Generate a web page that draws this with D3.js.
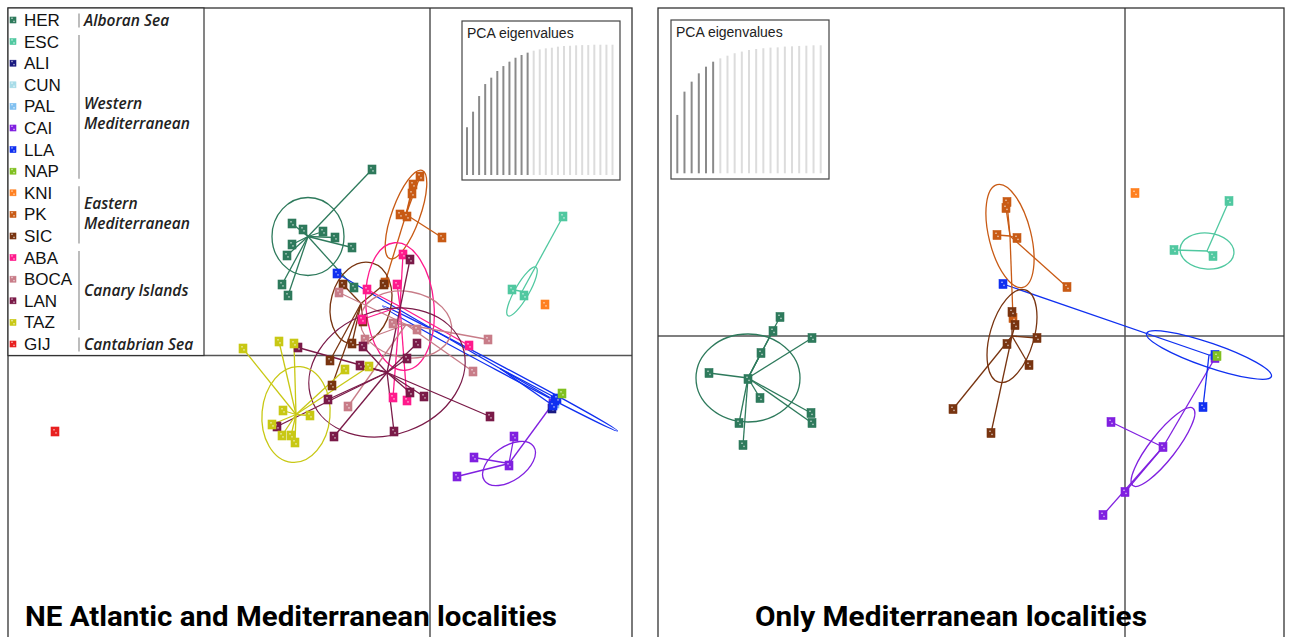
<!DOCTYPE html>
<html><head><meta charset="utf-8">
<script src="https://cdn.jsdelivr.net/npm/d3@7"></script>
<style>body{margin:0;background:#fff}svg{display:block}</style>
</head><body>
<svg id="c" width="1292" height="637"></svg>
<script>
// ---------------- DATA ----------------
const groups = ["HER","ESC","ALI","CUN","PAL","CAI","LLA","NAP","KNI","PK","SIC","ABA","BOCA","LAN","TAZ","GIJ"];
const groupColors = ["#2e7a5c","#50c8a0","#1a1a80","#a8dce8","#80c0f0","#8020e0","#1030f0","#80c020",
                     "#ff8020","#c85a14","#783410","#ff1a8c","#c87c88","#7a1a48","#c8c814","#e82020"];
const regionNames = [["Alboran Sea"],["Western","Mediterranean"],["Eastern","Mediterranean"],["Canary Islands"],["Cantabrian Sea"]];
const regionFirst = [0,1,8,11,15];
const regionLast  = [0,7,10,14,15];

// PCA scores, left panel (all localities): [group, PC1, PC2]
const leftScores = [
 ["HER",-0.58,1.86],["HER",-1.38,1.32],["HER",-1.27,1.26],["HER",-1.07,1.24],["HER",-0.95,1.18],["HER",-0.78,1.08],
 ["HER",-1.38,1.11],["HER",-1.43,1.00],["HER",-1.48,0.71],["HER",-1.42,0.60],["HER",-0.76,0.68],
 ["ESC",1.33,1.39],["ESC",0.82,0.66],["ESC",0.94,0.60],
 ["CUN",1.24,-0.47],["PAL",1.25,-0.48],["ALI",1.22,-0.53],
 ["CAI",0.84,-0.81],["CAI",0.44,-1.02],["CAI",0.27,-1.21],["CAI",0.79,-1.10],["CAI",1.23,-0.48],
 ["LLA",-0.93,0.82],["LLA",1.25,-0.45],["LLA",1.23,-0.50],["LLA",1.27,-0.43],
 ["NAP",1.32,-0.38],
 ["KNI",1.15,0.51],
 ["PK",-0.10,1.79],["PK",-0.17,1.71],["PK",-0.18,1.62],["PK",-0.30,1.41],["PK",-0.23,1.39],["PK",0.12,1.18],["PK",-0.45,0.73],
 ["SIC",-0.87,0.71],["SIC",-0.46,0.71],["SIC",-0.67,0.34],["SIC",-0.78,0.12],["SIC",-1.00,-0.05],["SIC",-0.98,-0.30],
 ["ABA",-0.27,1.01],["ABA",-0.33,0.71],["ABA",-0.63,0.66],["ABA",-0.68,0.36],["ABA",0.39,0.10],["ABA",-0.37,-0.42],["ABA",-0.23,-0.45],
 ["BOCA",-0.91,0.63],["BOCA",-0.37,0.32],["BOCA",-0.13,0.26],["BOCA",-0.65,0.16],["BOCA",0.58,0.16],["BOCA",0.43,-0.16],["BOCA",-0.82,-0.51],
 ["LAN",-0.20,0.96],["LAN",-0.23,-0.03],["LAN",-0.13,0.12],["LAN",-0.67,0.09],["LAN",-0.70,-0.10],["LAN",-1.32,0.08],
 ["LAN",-0.20,-0.37],["LAN",-0.06,-0.41],["LAN",0.60,-0.61],["LAN",-0.36,-0.76],["LAN",-0.96,-0.81],["LAN",-1.53,-0.71],["LAN",-1.02,-0.44],
 ["TAZ",-1.87,0.07],["TAZ",-1.51,0.14],["TAZ",-1.36,0.12],["TAZ",-0.85,-0.14],["TAZ",-0.61,-0.11],["TAZ",-1.47,-0.55],
 ["TAZ",-1.20,-0.60],["TAZ",-1.58,-0.69],["TAZ",-1.48,-0.80],["TAZ",-1.39,-0.80],["TAZ",-1.35,-0.87],
 ["GIJ",-3.75,-0.76]
];
// group centroids and inertia ellipses, left panel: [group, cx, cy, semi-axis 1, semi-axis 2, angle(deg)]
const leftCentroids = [
 ["HER",-1.22,1.19,0.36,0.39,0],
 ["ESC",0.92,0.64,0.28,0.07,-60],
 ["CAI",0.79,-1.08,0.30,0.17,-35],
 ["LLA",0.70,-0.13,1.33,0.03,28],
 ["PK",-0.24,1.41,0.14,0.47,20],
 ["SIC",-0.69,0.52,0.30,0.42,15],
 ["ABA",-0.30,0.49,0.34,0.64,-5],
 ["BOCA",-0.24,0.31,0.46,0.33,10],
 ["LAN",-0.43,-0.17,0.80,0.62,-20],
 ["TAZ",-1.34,-0.59,0.34,0.48,5]
];
// PCA scores, right panel (Mediterranean only)
const rightScores = [
 ["HER",-3.45,0.19],["HER",-3.52,0.05],["HER",-3.13,-0.02],["HER",-3.64,-0.17],["HER",-4.16,-0.37],["HER",-3.77,-0.43],
 ["HER",-3.65,-0.62],["HER",-3.14,-0.77],["HER",-3.13,-0.87],["HER",-3.86,-0.87],["HER",-3.82,-1.09],
 ["ESC",1.04,1.35],["ESC",0.49,0.86],["ESC",0.88,0.80],
 ["CAI",-0.14,-0.86],["CAI",0.38,-1.11],["CAI",0.00,-1.56],["CAI",-0.22,-1.79],["CAI",0.90,-0.22],
 ["LLA",-1.22,0.52],["LLA",0.90,-0.19],["LLA",0.78,-0.71],
 ["NAP",0.92,-0.20],
 ["KNI",0.10,1.43],
 ["PK",-1.18,1.34],["PK",-1.19,1.28],["PK",-1.28,1.01],["PK",-1.08,0.98],["PK",-0.58,0.49],["PK",-1.12,0.18],
 ["SIC",-1.13,0.24],["SIC",-1.10,0.11],["SIC",-1.18,-0.08],["SIC",-0.88,-0.02],["SIC",-0.96,-0.29],["SIC",-1.72,-0.73],["SIC",-1.34,-0.97]
];
const rightCentroids = [
 ["HER",-3.77,-0.42,0.52,0.44,0],
 ["ESC",0.82,0.85,0.27,0.18,5],
 ["CAI",0.38,-1.11,0.49,0.13,-52],
 ["LLA",0.84,-0.19,0.66,0.12,19],
 ["PK",-1.15,1.00,0.21,0.53,-14],
 ["SIC",-1.13,0.00,0.22,0.48,16]
];
// eigenvalue insets (cumulative %, axes kept shown dark)
const leftEigen = [36.6,48.6,60.6,69.8,74.7,79.8,83.6,87.0,90.0,92.1,93.9,95.4,96.4,97.2,97.7,98.5,99.0,99.2,99.5,99.7,99.7,100,100,100,100];
const leftEigenKept = 11;
const rightEigen = [45.6,63.8,71.6,78.1,83.3,87.2,89.8,91.9,93.8,95.1,96.4,97.1,97.7,98.2,98.4,99.0,99.2,99.5,99.7,100,100];
const rightEigenKept = 6;
const insetTitle = "PCA eigenvalues";
const titles = ["NE Atlantic and Mediterranean localities","Only Mediterranean localities"];

// ---------------- DRAWING ----------------
const svg = d3.select("#c");
const colorOf = d3.scaleOrdinal().domain(groups).range(groupColors);

function marker(g, cx, cy, col, w, h) {
  g.append("rect").attr("x", cx - w/2).attr("y", cy - h/2).attr("width", w).attr("height", h)
    .attr("fill", col).attr("stroke", col).attr("stroke-width", 0.6);
  g.append("rect").attr("x", cx - 1.7).attr("y", cy - 2.4).attr("width", 1.4).attr("height", 1.4).attr("fill", "#fff").attr("opacity", 0.7);
  g.append("rect").attr("x", cx + 0.3).attr("y", cy + 0.7).attr("width", 1.4).attr("height", 1.4).attr("fill", "#fff").attr("opacity", 0.7);
}

function drawPanel(cfg) {
  const g = svg.append("g");
  const x = d3.scaleLinear().domain(cfg.xDom).range([cfg.x0, cfg.x1]);
  const y = d3.scaleLinear().domain(cfg.yDom).range([cfg.y0, cfg.y1]);
  const clipId = "clip" + cfg.id;
  svg.append("clipPath").attr("id", clipId).append("rect")
    .attr("x", cfg.x0).attr("y", cfg.y0).attr("width", cfg.x1 - cfg.x0).attr("height", cfg.y1 - cfg.y0);
  const plot = g.append("g").attr("clip-path", `url(#${clipId})`);

  // axes through origin
  plot.append("line").attr("x1", x(0)).attr("x2", x(0)).attr("y1", cfg.y0).attr("y2", cfg.y1)
    .attr("stroke", "#555").attr("stroke-width", 1.5);
  plot.append("line").attr("x1", cfg.x0).attr("x2", cfg.x1).attr("y1", y(0)).attr("y2", y(0))
    .attr("stroke", "#555").attr("stroke-width", 1.5);

  // eigenvalue inset
  const ib = cfg.inset;
  const ig = plot.append("g");
  ig.append("rect").attr("x", ib.x0).attr("y", ib.y0).attr("width", ib.x1 - ib.x0).attr("height", ib.y1 - ib.y0)
    .attr("fill", "#fff").attr("stroke", "#444").attr("stroke-width", 1.2);
  const bx = d3.scalePoint().domain(d3.range(cfg.eigen.length)).range([ib.bx0, ib.bx1]);
  const by = d3.scaleLinear().domain([0, 100]).range([ib.by0, ib.by1]);
  ig.selectAll("line.eig").data(cfg.eigen).join("line").attr("class", "eig")
    .attr("x1", (d, i) => bx(i)).attr("x2", (d, i) => bx(i))
    .attr("y1", by(0)).attr("y2", d => by(d))
    .attr("stroke", (d, i) => i < cfg.kept ? "#8a8a8a" : "#dcdcdc").attr("stroke-width", 2);
  ig.append("text").attr("x", ib.x0 + 5).attr("y", ib.y0 + 17).text(insetTitle)
    .attr("font-family", "Liberation Sans, Arial, sans-serif").attr("font-size", 14).attr("fill", "#222");

  // ellipses and stars
  groups.forEach(name => {
    const c = cfg.cents.find(d => d[0] === name);
    if (!c) return;
    const col = colorOf(name);
    const cx = x(c[1]), cy = y(c[2]);
    const pts = cfg.scores.filter(d => d[0] === name);
    plot.append("ellipse").attr("cx", cx).attr("cy", cy)
      .attr("rx", x(c[3]) - x(0)).attr("ry", y(0) - y(c[4]))
      .attr("transform", `rotate(${c[5]},${cx},${cy})`)
      .attr("fill", "none").attr("stroke", col).attr("stroke-width", 1.3);
    pts.forEach(p => {
      plot.append("line").attr("x1", cx).attr("y1", cy).attr("x2", x(p[1])).attr("y2", y(p[2]))
        .attr("stroke", col).attr("stroke-width", 1.3);
    });
  });
  // points
  groups.forEach(name => {
    cfg.scores.filter(d => d[0] === name).forEach(p => marker(plot, x(p[1]), y(p[2]), colorOf(name), 8, 9));
  });

  // frame
  g.append("rect").attr("x", cfg.x0).attr("y", cfg.y0).attr("width", cfg.x1 - cfg.x0).attr("height", cfg.y1 - cfg.y0)
    .attr("fill", "none").attr("stroke", "#333").attr("stroke-width", 1.3);

  // title
  g.append("text").attr("x", cfg.titleX).attr("y", 626).text(cfg.title)
    .attr("font-family", "Roboto, sans-serif").attr("font-weight", 700).attr("font-size", 27)
    .attr("textLength", cfg.titleW).attr("lengthAdjust", "spacingAndGlyphs").attr("fill", "#000");
  return {x, y};
}

drawPanel({id: "L", x0: 8, x1: 632, y0: 8, y1: 645, xDom: [-4.22, 2.02], yDom: [3.475, -2.895],
  scores: leftScores, cents: leftCentroids, eigen: leftEigen, kept: leftEigenKept,
  inset: {x0: 462, x1: 620, y0: 21, y1: 180, bx0: 467, bx1: 612.5, by0: 175, by1: 44.7},
  title: titles[0], titleX: 25, titleW: 532});
drawPanel({id: "R", x0: 658, x1: 1284, y0: 8, y1: 645, xDom: [-4.67, 1.59], yDom: [3.28, -3.09],
  scores: rightScores, cents: rightCentroids, eigen: rightEigen, kept: rightEigenKept,
  inset: {x0: 671, x1: 829, y0: 20, y1: 179, bx0: 677.3, bx1: 820.7, by0: 173.3, by1: 45.3},
  title: titles[1], titleX: 755, titleW: 392});

// legend
const lg = svg.append("g");
const rowY = d3.scalePoint().domain(groups).range([20, 344]);
lg.append("rect").attr("x", 8).attr("y", 8).attr("width", 196).attr("height", 347.5)
  .attr("fill", "#fff").attr("stroke", "#333").attr("stroke-width", 1.2);
groups.forEach(name => {
  const cy = rowY(name);
  marker(lg, 13, cy, colorOf(name), 6, 6);
  lg.append("text").attr("x", 24).attr("y", cy + 6).text(name)
    .attr("font-family", "Liberation Sans, Arial, sans-serif").attr("font-size", 17).attr("fill", "#111");
});
const labelShift = [0, 7, -1, 0, 0];
regionNames.forEach((lines, i) => {
  const yTop = rowY(groups[regionFirst[i]]) - 6.5;
  const yBot = rowY(groups[regionLast[i]]) + 7.5;
  lg.append("line").attr("x1", 79).attr("x2", 79).attr("y1", yTop).attr("y2", yBot)
    .attr("stroke", "#999").attr("stroke-width", 1.3);
  const mid = (yTop + yBot) / 2 + labelShift[i];
  lines.forEach((t, k) => {
    lg.append("text").attr("x", 84).attr("y", mid + 5 + (k - (lines.length - 1) / 2) * 20.5).text(t)
      .attr("font-family", "Open Sans, sans-serif").attr("font-style", "italic").attr("font-weight", 600)
      .attr("font-size", 15.5).attr("fill", "#222");
  });
});
</script>
</body></html>
